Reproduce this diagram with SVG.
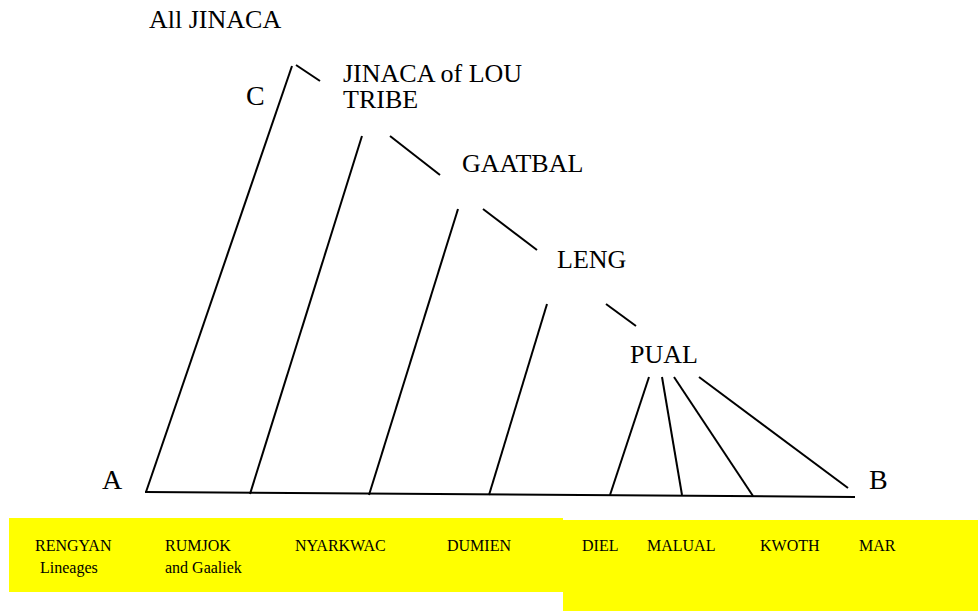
<svg xmlns="http://www.w3.org/2000/svg" width="978" height="611" viewBox="0 0 978 611">
<style>
text{font-family:'Liberation Serif','Tinos','DejaVu Serif','Times New Roman',Times,serif;fill:#000}
.t{font-size:26px}
.l{font-size:28px}
.s{font-size:16px}
.ln{stroke:#000;stroke-width:2;fill:none;stroke-linecap:butt}
.box{fill:#ffff00}
</style>
<rect width="978" height="611" fill="#fff"/>
<g id="boxes">
<rect class="box" x="9" y="518" width="554" height="74"/>
<rect class="box" x="563" y="520" width="415" height="91"/>
</g>
<g id="connectors">
<line class="ln" x1="145" y1="492" x2="855" y2="497" stroke-width="2.5"/>
<line class="ln" x1="146" y1="492" x2="292" y2="66"/>
<line class="ln" x1="296" y1="65" x2="320" y2="81"/>
<line class="ln" x1="250" y1="494" x2="362" y2="136"/>
<line class="ln" x1="390" y1="136" x2="440" y2="175"/>
<line class="ln" x1="369" y1="495" x2="458" y2="209"/>
<line class="ln" x1="483" y1="209" x2="537" y2="250"/>
<line class="ln" x1="489" y1="495" x2="547" y2="304"/>
<line class="ln" x1="606" y1="304" x2="636" y2="326"/>
<line class="ln" x1="649" y1="377" x2="610" y2="495"/>
<line class="ln" x1="662" y1="377" x2="682" y2="495"/>
<line class="ln" x1="674" y1="377" x2="753" y2="496"/>
<line class="ln" x1="699" y1="377" x2="848" y2="488"/>
</g>
<g id="n-all"><text class="t" x="149" y="28" font-family="Liberation Serif, serif">All JINACA</text></g>
<g id="n-lou"><text class="t" x="343" y="82">JINACA of LOU</text><text class="t" x="343" y="108">TRIBE</text></g>
<g id="n-gaatbal"><text class="t" x="462" y="172">GAATBAL</text></g>
<g id="n-leng"><text class="t" x="557" y="268">LENG</text></g>
<g id="n-pual"><text class="t" x="630" y="363">PUAL</text></g>
<g id="n-c"><text class="l" x="246" y="105">C</text></g>
<g id="n-a"><text class="l" x="102" y="489">A</text></g>
<g id="n-b"><text class="l" x="869" y="489">B</text></g>
<g id="n-bottom">
<text class="s" x="35" y="551">RENGYAN</text>
<text class="s" x="40" y="573">Lineages</text>
<text class="s" x="165" y="551">RUMJOK</text>
<text class="s" x="165" y="573">and Gaaliek</text>
<text class="s" x="295" y="551">NYARKWAC</text>
<text class="s" x="447" y="551">DUMIEN</text>
<text class="s" x="582" y="551">DIEL</text>
<text class="s" x="647" y="551">MALUAL</text>
<text class="s" x="760" y="551">KWOTH</text>
<text class="s" x="859" y="551">MAR</text>
</g>
</svg>
